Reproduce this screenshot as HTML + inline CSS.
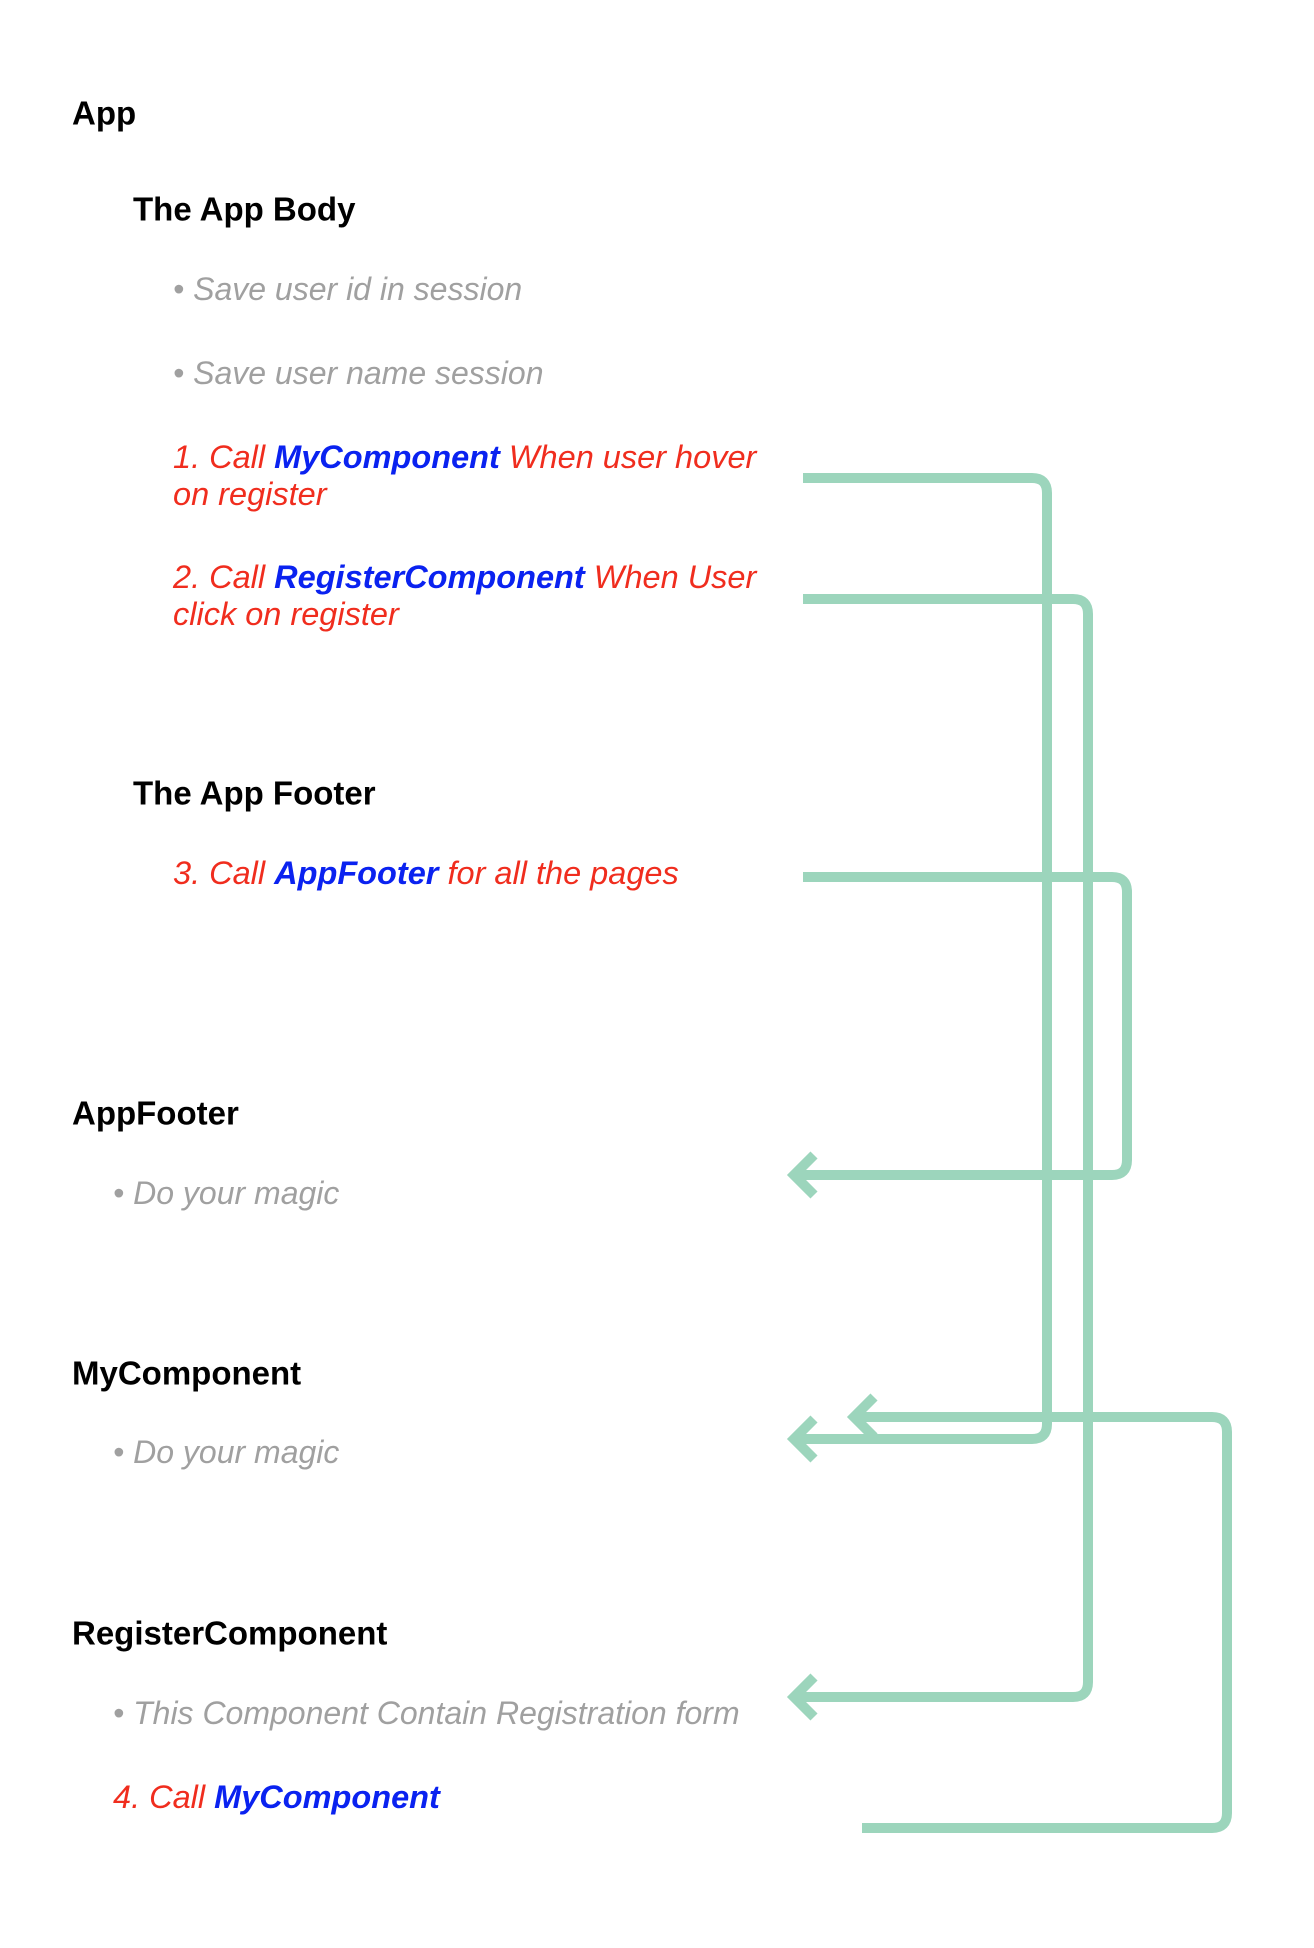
<!DOCTYPE html>
<html><head><meta charset="utf-8"><style>
body{margin:0;background:#fff;width:1314px;height:1948px;position:relative;overflow:hidden;font-family:"Liberation Sans",sans-serif}
.t{position:absolute;white-space:nowrap;line-height:1;transform:translateY(-50%)}
.h{font-weight:bold;color:#000;font-size:33px}
.g{font-style:italic;color:#a0a0a0;font-size:32px}
.r{font-style:italic;color:#f02d1e;font-size:32.5px}
.b{font-weight:bold;color:#0a22f0}
svg{position:absolute;left:0;top:0}
</style></head><body>
<div class="t h" style="left:72px;top:113px">App</div>
<div class="t h" style="left:133px;top:209px">The App Body</div>
<div class="t g" style="left:173px;top:289px">• Save user id in session</div>
<div class="t g" style="left:173px;top:373px">• Save user name session</div>
<div class="t r" style="left:173px;top:457px">1. Call <span class="b">MyComponent</span> When user hover</div>
<div class="t r" style="left:173px;top:494px">on register</div>
<div class="t r" style="left:173px;top:577px">2. Call <span class="b">RegisterComponent</span> When User</div>
<div class="t r" style="left:173px;top:614px">click on register</div>
<div class="t h" style="left:133px;top:793px">The App Footer</div>
<div class="t r" style="left:173px;top:873px">3. Call <span class="b">AppFooter</span> for all the pages</div>
<div class="t h" style="left:72px;top:1113px">AppFooter</div>
<div class="t g" style="left:113px;top:1193px">• Do your magic</div>
<div class="t h" style="left:72px;top:1373px">MyComponent</div>
<div class="t g" style="left:113px;top:1452px">• Do your magic</div>
<div class="t h" style="left:72px;top:1633px">RegisterComponent</div>
<div class="t g" style="left:113px;top:1713px">• This Component Contain Registration form</div>
<div class="t r" style="left:113px;top:1797px">4. Call <span class="b">MyComponent</span></div>
<svg width="1314" height="1948" fill="none" stroke="#9cd5bc" stroke-width="10">
<path d="M803 478 H1032 Q1047 478 1047 493 V1424 Q1047 1439 1032 1439 H794"/>
<path d="M814 1419 L794 1439 L814 1459"/>
<path d="M803 599 H1073 Q1088 599 1088 614 V1682 Q1088 1697 1073 1697 H794"/>
<path d="M814 1677 L794 1697 L814 1717"/>
<path d="M803 877 H1112 Q1127 877 1127 892 V1160 Q1127 1175 1112 1175 H794"/>
<path d="M814 1155 L794 1175 L814 1195"/>
<path d="M862 1828 H1212 Q1227 1828 1227 1813 V1432 Q1227 1417 1212 1417 H854"/>
<path d="M874 1397 L854 1417 L874 1437"/>
</svg>
</body></html>
